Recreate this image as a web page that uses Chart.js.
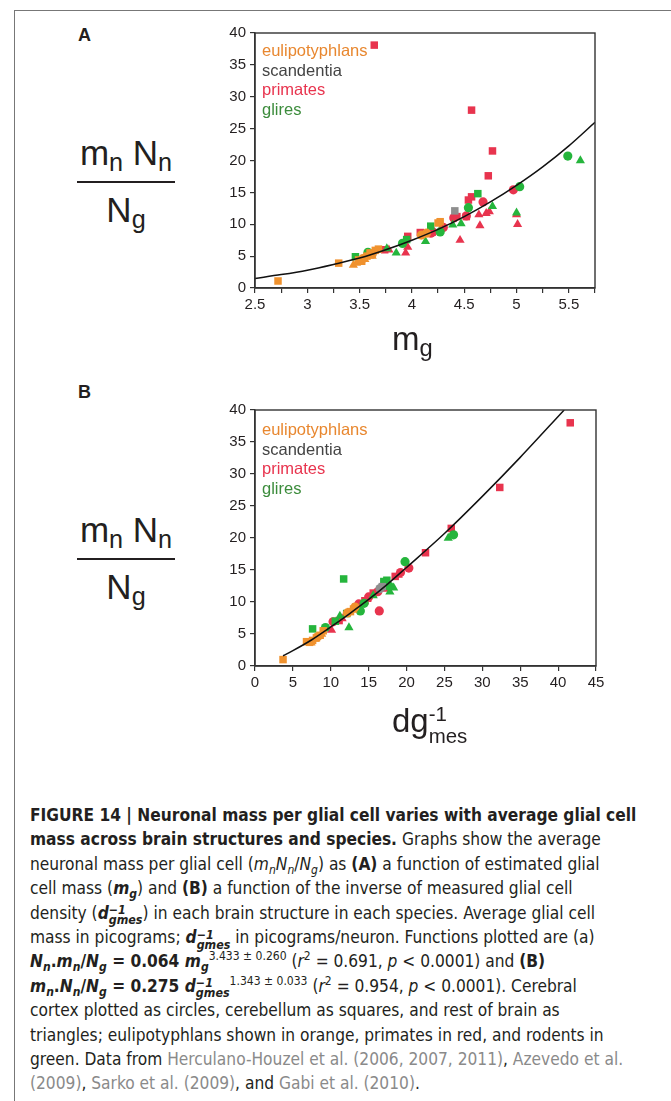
<!DOCTYPE html>
<html>
<head>
<meta charset="utf-8">
<script src="https://cdn.jsdelivr.net/npm/chart.js"></script>
<style>
  body { margin: 0; background: #fff; }
  #page { position: relative; width: 671px; height: 1101px; overflow: hidden; font-family: "Liberation Sans", Arial, sans-serif; color: #231f20; }
  #frame { position: absolute; left: 14px; top: 10px; width: 680px; height: 1100px; border-top: 1.5px solid #777; border-left: 1.5px solid #777; }
  .box { position: absolute; left: 0; width: 671px; height: 330px; }
  .panel { position: absolute; font-weight: bold; font-size: 18px; }
  .frac { position: absolute; left: 68px; width: 116px; text-align: center; font-size: 35px; line-height: 1; }
  .frac .num { position: absolute; left: 0; width: 116px; }
  .frac .bar { position: absolute; left: 9px; width: 98px; height: 2px; background: #231f20; }
  .frac .den { position: absolute; left: 0; width: 116px; }
  .frac sub, .xt sub { font-size: 0.72em; vertical-align: -0.25em; line-height: 0; }
  .legend { position: absolute; left: 262px; font-size: 16.5px; line-height: 19.5px; }
  .xt { position: absolute; font-size: 33px; line-height: 1; }
  #caption { position: absolute; left: 30px; top: 803px; font-family: "Liberation Sans Narrow", "DejaVu Sans Condensed", sans-serif; font-size: 17.2px; }
  #caption div { height: 24.4px; line-height: 24.4px; white-space: nowrap; }
  #caption sub, #caption sup { font-size: 0.7em; line-height: 0; }
  .ref { color: #8a8a8a; }
  .ss { display: inline-block; vertical-align: -0.45em; line-height: 0.8; font-size: 0.72em; text-align: left; }
  .ss span { display: block; }
</style>
</head>
<body>
<div id="page">
  <div id="frame"></div>

  <div class="panel" style="left:78px; top:25px;">A</div>
  <div class="frac" style="top:135px;">
    <div class="num" style="top:0;">m<sub>n</sub> N<sub>n</sub></div>
    <div class="bar" style="top:46px;"></div>
    <div class="den" style="top:57px;">N<sub>g</sub></div>
  </div>
  <div class="box" style="top:0;"><canvas id="chartA"></canvas></div>
  <div class="legend" style="top:41px;">
    <div style="color:#e8872f;">eulipotyphlans</div>
    <div style="color:#444;">scandentia</div>
    <div style="color:#e8344e;">primates</div>
    <div style="color:#3c8c3c;">glires</div>
  </div>
  <div class="xt" style="left:392px; top:322px;">m<sub>g</sub></div>

  <div class="panel" style="left:78px; top:382px;">B</div>
  <div class="frac" style="top:512px;">
    <div class="num" style="top:0;">m<sub>n</sub> N<sub>n</sub></div>
    <div class="bar" style="top:46px;"></div>
    <div class="den" style="top:57px;">N<sub>g</sub></div>
  </div>
  <div class="box" style="top:377px;"><canvas id="chartB"></canvas></div>
  <div class="legend" style="top:420px;">
    <div style="color:#e8872f;">eulipotyphlans</div>
    <div style="color:#444;">scandentia</div>
    <div style="color:#e8344e;">primates</div>
    <div style="color:#3c8c3c;">glires</div>
  </div>
  <div class="xt" style="left:392px; top:703px;">dg<span class="ss" style="font-size:0.62em; vertical-align:-0.55em; line-height:1.1;"><span>-1</span><span>mes</span></span></div>

  <div id="caption">
    <div><b>FIGURE 14 | Neuronal mass per glial cell varies with average glial cell</b></div>
    <div><b>mass across brain structures and species.</b> Graphs show the average</div>
    <div>neuronal mass per glial cell (<i>m<sub>n</sub>N<sub>n</sub></i>/<i>N<sub>g</sub></i>) as <b>(A)</b> a function of estimated glial</div>
    <div>cell mass (<b><i>m<sub>g</sub></i></b>) and <b>(B)</b> a function of the inverse of measured glial cell</div>
    <div>density (<b><i>d<span class="ss"><span>&minus;1</span><span>gmes</span></span></i></b>) in each brain structure in each species. Average glial cell</div>
    <div>mass in picograms; <b><i>d<span class="ss"><span>&minus;1</span><span>gmes</span></span></i></b> in picograms/neuron. Functions plotted are (a)</div>
    <div><b><i>N<sub>n</sub></i>.<i>m<sub>n</sub></i>/<i>N<sub>g</sub></i> = 0.064 <i>m<sub>g</sub></i></b><sup>3.433 ± 0.260</sup> (<i>r</i><sup>2</sup> = 0.691, <i>p</i> &lt; 0.0001) and <b>(B)</b></div>
    <div><b><i>m<sub>n</sub></i>.<i>N<sub>n</sub></i>/<i>N<sub>g</sub></i> = 0.275 <i>d<span class="ss"><span>&minus;1</span><span>gmes</span></span></i></b><sup>1.343 ± 0.033</sup> (<i>r</i><sup>2</sup> = 0.954, <i>p</i> &lt; 0.0001). Cerebral</div>
    <div>cortex plotted as circles, cerebellum as squares, and rest of brain as</div>
    <div>triangles; eulipotyphlans shown in orange, primates in red, and rodents in</div>
    <div>green. Data from <span class="ref">Herculano-Houzel et al. (2006, 2007, 2011)</span>, <span class="ref">Azevedo et al.</span></div>
    <div><span class="ref">(2009)</span>, <span class="ref">Sarko et al. (2009)</span>, and <span class="ref">Gabi et al. (2010)</span>.</div>
  </div>
</div>

<script>
// colours per group
const ORANGE = "#f0922e";
const GRAY = "#8e8e8e";
const RED = "#e8344e";
const GREEN = "#25b53c";

// Panel A: neuronal mass per glial cell vs glial cell mass (m_g)
const aEuliSquare = [[2.72, 1.1], [3.30, 3.9], [3.49, 4.4], [3.52, 4.2], [3.57, 5.0], [3.60, 5.5], [3.65, 5.9], [3.68, 6.1], [4.25, 10.2], [4.27, 10.4]];
const aEuliCircle = [[3.53, 4.6], [3.62, 5.3], [4.09, 8.3], [4.14, 8.6]];
const aEuliTriangle = [[3.44, 3.6], [3.47, 3.9], [3.55, 4.5], [3.62, 5.0]];
const aScanSquare = [[4.41, 12.1]];
const aPrimSquare = [[3.64, 38.1], [4.57, 27.9], [4.77, 21.5], [4.73, 17.6], [3.74, 6.0], [3.96, 8.1], [4.08, 8.7], [4.43, 11.2], [4.54, 13.8], [4.57, 14.3], [4.52, 11.2]];
const aPrimCircle = [[4.18, 8.6], [4.20, 8.8], [4.40, 11.0], [4.52, 11.3], [4.68, 13.5], [4.97, 15.4], [4.30, 9.5]];
const aPrimTriangle = [[3.94, 5.5], [3.96, 6.4], [4.46, 7.5], [4.64, 11.5], [4.65, 9.8], [4.71, 11.7], [4.74, 12.0], [5.00, 11.5], [5.01, 10.0], [3.78, 6.0]];
const aGlireSquare = [[3.46, 4.9], [3.95, 7.6], [4.18, 9.7], [4.63, 14.8]];
const aGlireCircle = [[3.58, 5.6], [3.91, 7.0], [4.27, 8.8], [4.54, 12.6], [5.03, 15.9], [5.49, 20.7]];
const aGlireTriangle = [[3.76, 6.2], [3.85, 5.5], [4.13, 7.3], [4.39, 9.9], [4.47, 10.1], [4.77, 12.8], [5.00, 11.8], [5.61, 20.0]];
// fitted curve
const aFitX = [2.5, 2.75, 3, 3.25, 3.5, 3.75, 4, 4.25, 4.5, 4.75, 5, 5.25, 5.5, 5.75];
const aFitY = [1.5, 2.1, 2.8, 3.7, 4.7, 6.0, 7.5, 9.2, 11.2, 13.5, 16.1, 19.0, 22.3, 26.0];

// Panel B: neuronal mass per glial cell vs inverse glial density (dg-1 mes)
const bEuliSquare = [[3.7, 1.0], [6.8, 3.8], [7.2, 3.7], [7.6, 4.0], [8.1, 4.4], [8.6, 4.8], [9.0, 5.5], [12.6, 8.5], [13.0, 8.9]];
const bEuliCircle = [[8.3, 4.6], [12.2, 8.3], [13.2, 9.2]];
const bEuliTriangle = [[7.4, 3.6], [7.9, 4.2], [8.8, 5.0]];
const bScanCircle = [[16.5, 12.1]];
const bScanSquare = [[16.8, 12.4]];
const bPrimSquare = [[41.6, 38.0], [32.3, 27.9], [25.9, 21.5], [22.5, 17.7], [15.6, 11.4], [18.5, 14.0], [14.5, 10.2], [11.1, 7.1]];
const bPrimCircle = [[16.4, 8.6], [20.3, 15.3], [15.0, 10.8], [16.2, 11.6], [13.7, 9.7], [19.2, 14.6], [10.3, 6.9]];
const bPrimTriangle = [[10.1, 5.6], [12.9, 9.0], [14.8, 10.4], [17.2, 12.0], [18.9, 14.2], [11.5, 7.4]];
const bGlireSquare = [[11.7, 13.6], [7.6, 5.8], [17.4, 13.4], [17.0, 13.2], [10.6, 7.0], [12.1, 8.2]];
const bGlireCircle = [[19.8, 16.3], [26.2, 20.5], [13.9, 8.6], [14.4, 9.8], [9.3, 6.0], [17.7, 12.5]];
const bGlireTriangle = [[25.5, 20.0], [12.4, 6.0], [17.8, 11.6], [18.3, 12.2], [11.2, 7.8], [15.6, 11.0]];
const bFitX = [3.7, 5, 7.5, 10, 12.5, 15, 17.5, 20, 25, 30, 35, 40.8];
const bFitY = [1.6, 2.4, 4.1, 6.1, 8.2, 10.4, 12.8, 15.4, 20.7, 26.5, 32.6, 40.0];

Chart.defaults.font.family = "'Liberation Sans', Arial, sans-serif";
Chart.defaults.font.size = 15;
Chart.defaults.color = "#231f20";

// box round the plot area
const framePlugin = {
  id: "frame",
  afterDraw(chart) {
    const { ctx, chartArea: a } = chart;
    ctx.save();
    ctx.strokeStyle = "#333";
    ctx.lineWidth = 1.4;
    ctx.strokeRect(a.left, a.top, a.right - a.left, a.bottom - a.top);
    ctx.restore();
  },
};

function series(arr, color, style) {
  return {
    data: arr.map(([x, y]) => ({ x, y })),
    pointStyle: style,
    backgroundColor: color,
    borderWidth: 0,
    pointRadius: style === "circle" ? 4.6 : 5.3,
    pointHoverRadius: style === "circle" ? 4.6 : 5.3,
  };
}

function fitLine(xs, ys) {
  return {
    data: xs.map((x, i) => ({ x, y: ys[i] })),
    showLine: true,
    borderColor: "#111",
    borderWidth: 1.5,
    pointRadius: 0,
    cubicInterpolationMode: "monotone",
    fill: false,
  };
}

function axes(xMin, xMax, xStep, xLabel) {
  const axisStyle = {
    border: { color: "#333", width: 1.4 },
    grid: { drawOnChartArea: false, color: "#333", tickLength: 5, lineWidth: 1.2 },
  };
  return {
    x: {
      type: "linear",
      min: xMin,
      max: xMax,
      ...axisStyle,
      ticks: { stepSize: xStep, autoSkip: false, maxRotation: 0, padding: 3, callback: xLabel },
      afterFit: (s) => { s.height = 30; },
    },
    y: {
      min: 0,
      max: 40,
      ...axisStyle,
      ticks: { stepSize: 5, padding: 4 },
      afterFit: (s) => { s.width = 50; },
    },
  };
}

function makeChart(id, datasets, scales, padding) {
  return new Chart(document.getElementById(id), {
    type: "scatter",
    data: { datasets: datasets },
    options: {
      responsive: true,
      maintainAspectRatio: false,
      animation: false,
      layout: { padding: padding },
      scales: scales,
      plugins: { legend: { display: false }, tooltip: { enabled: false } },
    },
    plugins: [framePlugin],
  });
}

// Panel A
makeChart(
  "chartA",
  [
    fitLine(aFitX, aFitY),
    series(aEuliSquare, ORANGE, "rect"),
    series(aEuliCircle, ORANGE, "circle"),
    series(aEuliTriangle, ORANGE, "triangle"),
    series(aScanSquare, GRAY, "rect"),
    series(aGlireSquare, GREEN, "rect"),
    series(aGlireCircle, GREEN, "circle"),
    series(aGlireTriangle, GREEN, "triangle"),
    series(aPrimSquare, RED, "rect"),
    series(aPrimCircle, RED, "circle"),
    series(aPrimTriangle, RED, "triangle"),
  ],
  axes(2.5, 5.75, 0.25, (v) => {
    const half = v * 2;
    if (Math.abs(half - Math.round(half)) > 1e-6) return "";
    return Number.isInteger(v) ? String(v) : v.toFixed(1);
  }),
  { left: 205, right: 76, top: 33, bottom: 12 }
);

// Panel B
makeChart(
  "chartB",
  [
    fitLine(bFitX, bFitY),
    series(bEuliSquare, ORANGE, "rect"),
    series(bEuliCircle, ORANGE, "circle"),
    series(bEuliTriangle, ORANGE, "triangle"),
    series(bScanCircle, GRAY, "circle"),
    series(bScanSquare, GRAY, "rect"),
    series(bGlireSquare, GREEN, "rect"),
    series(bGlireCircle, GREEN, "circle"),
    series(bGlireTriangle, GREEN, "triangle"),
    series(bPrimSquare, RED, "rect"),
    series(bPrimCircle, RED, "circle"),
    series(bPrimTriangle, RED, "triangle"),
  ],
  axes(0, 45, 5, (v) => String(v)),
  { left: 205, right: 75, top: 33, bottom: 11 }
);
</script>
</body>
</html>
